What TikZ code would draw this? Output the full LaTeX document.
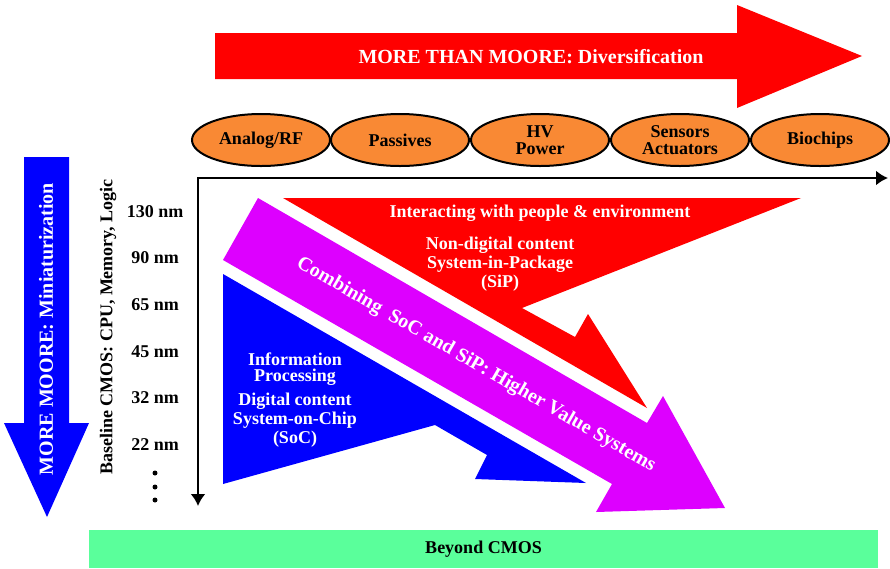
\documentclass[tikz,border=0pt]{standalone}
\usepackage{fontspec}
\setmainfont{Liberation Serif}
\usetikzlibrary{arrows.meta,shapes.geometric}

\definecolor{mtmred}{RGB}{255,0,0}
\definecolor{mmblue}{RGB}{0,0,255}
\definecolor{sipviolet}{RGB}{221,0,255}
\definecolor{techorange}{RGB}{249,137,52}
\definecolor{beyondgreen}{RGB}{90,255,155}

\begin{document}
\begin{tikzpicture}[x=1pt, y=-1pt,
  big/.style={font=\bfseries\fontsize{20}{22}\selectfont},
  small/.style={font=\bfseries\fontsize{18}{19}\selectfont, align=center},
  tech/.style={ellipse, draw, line width=2pt, fill=techorange, minimum width=138pt, minimum height=52pt, inner sep=0pt, align=center, font=\bfseries\fontsize{18}{17}\selectfont},
  axis/.style={line width=2.5pt, {Latex[length=12pt,width=15pt]}-{Latex[length=12pt,width=15pt]}},
  dot/.style={circle, fill=black, inner sep=0pt, minimum size=5pt}]
\useasboundingbox (0,0) rectangle (890,568);
\fill[mtmred] (215,33) -- (737,33) -- (737,5) -- (862,56) -- (737,108) -- (737,79) -- (215,79) -- cycle;
\node[big, text=white] (diversify) at (531,57) {MORE THAN MOORE: Diversification};
\node[tech] (analog) at (261,140) {Analog/RF};
\node[tech] (passives) at (400,140) {Passives};
\node[tech] (hvpower) at (540,140) {HV\\Power};
\node[tech] (sensors) at (680,140) {Sensors\\Actuators};
\node[tech] (biochips) at (820,140) {Biochips};
\fill[mmblue] (24,157) -- (69,157) -- (69,423) -- (89,423) -- (47,517) -- (4,423) -- (24,423) -- cycle;
\node[big, text=white, rotate=90] (miniaturize) at (46,329) {MORE MOORE: Miniaturization};
\node[small, rotate=90] (baseline) at (108,327) {Baseline CMOS: CPU, Memory, Logic};
\node[small] (nm130) at (155,212) {130 nm};
\node[small] (nm90) at (155,258) {90 nm};
\node[small] (nm65) at (155,305) {65 nm};
\node[small] (nm45) at (155,352) {45 nm};
\node[small] (nm32) at (155,398) {32 nm};
\node[small] (nm22) at (155,445) {22 nm};
\node[dot] (dot1) at (155,473) {};
\node[dot] (dot2) at (155,487) {};
\node[dot] (dot3) at (155,500) {};
\coordinate (origin) at (198,178);
\coordinate (xend) at (888,178);
\coordinate (yend) at (198,506);
\draw[axis] (xend) -- (origin) -- (yend);
\fill[mtmred] (283,198) -- (801,198) -- (522,308) -- (575,337) -- (588,314) -- (647,408) -- cycle;
\fill[sipviolet] (258,198) -- (647,423) -- (663,396) -- (725,508) -- (596,512) -- (612,484) -- (223,260) -- cycle;
\fill[mmblue] (223,274) -- (586,483) -- (475,479) -- (487,455) -- (435,425) -- (223,484) -- cycle;
\node[small, text=white] (interact) at (540,213) {Interacting with people \& environment};
\node[small, text=white] (sip) at (500,264) {Non-digital content\\System-in-Package\\(SiP)};
\node[big, text=white, rotate=-30] (combine) at (476,365) {Combining\ \ SoC and SiP: Higher Value Systems};
\node[small, text=white] (soc) at (295,400) {Information\\[-3pt]Processing\\[5pt]Digital content\\System-on-Chip\\(SoC)};
\node[small, fill=beyondgreen, minimum width=789pt, minimum height=38pt] (beyond) at (483.5,549) {Beyond CMOS};
\end{tikzpicture}
\end{document}
